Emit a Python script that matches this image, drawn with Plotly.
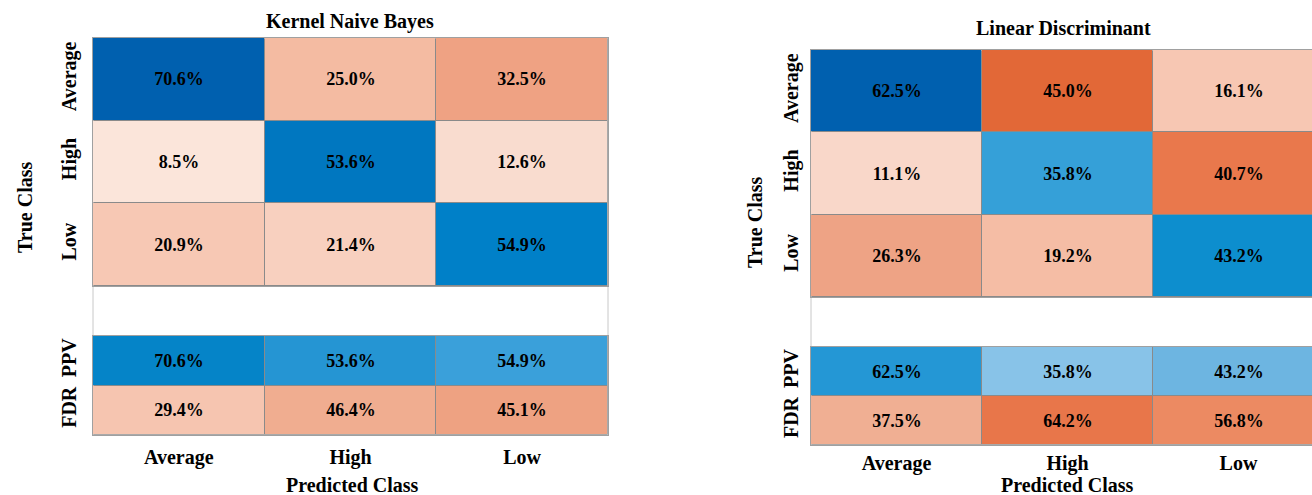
import plotly.graph_objects as go

# Class labels shared by both confusion charts
classes = ["Average", "High", "Low"]

# Kernel Naive Bayes: row = true class, column = predicted class (column-normalised %)
knb_matrix = [
    [70.6, 25.0, 32.5],
    [8.5, 53.6, 12.6],
    [20.9, 21.4, 54.9],
]
knb_ppv = [70.6, 53.6, 54.9]
knb_fdr = [29.4, 46.4, 45.1]

# Linear Discriminant
lda_matrix = [
    [62.5, 45.0, 16.1],
    [11.1, 35.8, 40.7],
    [26.3, 19.2, 43.2],
]
lda_ppv = [62.5, 35.8, 43.2]
lda_fdr = [37.5, 64.2, 56.8]

W, H = 1312, 495
FONT = "Liberation Serif"

# Colour scales (value range 0..100 %)
diag_scale = [
    [0.0, "#ffffff"], [0.25, "#6cbbe4"], [0.358, "#35a0d8"], [0.432, "#0d8ece"],
    [0.536, "#0077c0"], [0.549, "#0080c8"], [0.6, "#0068b4"], [0.625, "#0060af"],
    [1.0, "#0060af"],
]
off_scale = [
    [0.0, "#fdf1eb"], [0.085, "#fbe5da"], [0.111, "#f9d7c9"], [0.126, "#f9dccf"],
    [0.161, "#f7c7b3"], [0.192, "#f5bda5"], [0.209, "#f7c8b4"], [0.214, "#f8d0bf"],
    [0.25, "#f4bba2"], [0.263, "#eea385"], [0.325, "#efa283"], [0.407, "#e9784c"],
    [0.45, "#e26837"], [1.0, "#d45020"],
]
ppv_scale = [
    [0.0, "#ffffff"], [0.358, "#88c3e8"], [0.432, "#6db5e1"], [0.536, "#2595d3"],
    [0.549, "#3aa0da"], [0.625, "#2497d5"], [0.706, "#0584c8"], [1.0, "#0060b0"],
]
fdr_scale = [
    [0.0, "#ffffff"], [0.294, "#f6c5b0"], [0.375, "#f0af93"], [0.451, "#eea282"],
    [0.464, "#f0ad90"], [0.568, "#ec8a62"], [0.642, "#e8764a"], [1.0, "#d45020"],
]


def px_x(p):
    return p / W


def px_y(p):
    return 1 - p / H


fig = go.Figure()


def fmt(v):
    return f"{v:.1f}%"


def add_panel(matrix, ppv, fdr, ax_main, ax_sum):
    n = len(classes)
    diag = [[matrix[i][j] if i == j else None for j in range(n)] for i in range(n)]
    off = [[matrix[i][j] if i != j else None for j in range(n)] for i in range(n)]
    diag_txt = [[fmt(matrix[i][j]) if i == j else "" for j in range(n)] for i in range(n)]
    off_txt = [[fmt(matrix[i][j]) if i != j else "" for j in range(n)] for i in range(n)]
    common = dict(
        x=classes, showscale=False, zmin=0, zmax=100, xgap=1, ygap=1,
        texttemplate="%{text}", hoverinfo="skip",
        textfont=dict(family=FONT, size=18, color="black", weight="bold"),
    )
    xm, ym = ax_main
    xs, ys = ax_sum
    fig.add_trace(go.Heatmap(z=diag, y=classes, text=diag_txt, colorscale=diag_scale,
                             xaxis=xm, yaxis=ym, **common))
    fig.add_trace(go.Heatmap(z=off, y=classes, text=off_txt, colorscale=off_scale,
                             xaxis=xm, yaxis=ym, **common))
    fig.add_trace(go.Heatmap(z=[ppv, [None] * n], y=["PPV", "FDR"],
                             text=[[fmt(v) for v in ppv], [""] * n],
                             colorscale=ppv_scale, xaxis=xs, yaxis=ys, **common))
    fig.add_trace(go.Heatmap(z=[[None] * n, fdr], y=["PPV", "FDR"],
                             text=[[""] * n, [fmt(v) for v in fdr]],
                             colorscale=fdr_scale, xaxis=xs, yaxis=ys, **common))


add_panel(knb_matrix, knb_ppv, knb_fdr, ("x", "y"), ("x2", "y2"))
add_panel(lda_matrix, lda_ppv, lda_fdr, ("x3", "y3"), ("x4", "y4"))

tick_font = dict(family=FONT, size=20, color="black", weight="bold")
line = dict(showline=True, mirror=True, linecolor="#a0a0a0", linewidth=1,
            showgrid=False, zeroline=False, ticks="")

# Pixel geometry of the two panels
left_x = [px_x(93), px_x(608)]
left_main = [px_y(286), px_y(38)]
left_sum = [px_y(435), px_y(336)]
right_x = [px_x(811), 1.0]
right_main = [px_y(297), px_y(50)]
right_sum = [px_y(445), px_y(347)]
# the right-hand panel is clipped at the page edge
right_range = [-0.5, -0.5 + 3 * (1312 - 811) / (1324 - 811)]

fig.update_layout(
    width=W, height=H, margin=dict(l=0, r=0, t=0, b=0),
    paper_bgcolor="white", plot_bgcolor="#8a8a8a", showlegend=False,
    xaxis=dict(domain=left_x, showticklabels=False, range=[-0.5, 2.5], **line),
    yaxis=dict(domain=left_main, autorange="reversed", tickangle=-90,
               tickfont=tick_font, ticklabelstandoff=8, **line),
    xaxis2=dict(domain=left_x, anchor="y2", range=[-0.5, 2.5], tickfont=tick_font,
                ticklabelstandoff=4, **line),
    yaxis2=dict(domain=left_sum, anchor="x2", autorange="reversed", tickangle=-90,
                tickfont=tick_font, ticklabelstandoff=8, **line),
    xaxis3=dict(domain=right_x, anchor="y3", showticklabels=False, range=right_range, **line),
    yaxis3=dict(domain=right_main, anchor="x3", autorange="reversed", tickangle=-90,
                tickfont=tick_font, ticklabelstandoff=4, **line),
    xaxis4=dict(domain=right_x, anchor="y4", range=right_range, tickfont=tick_font,
                ticklabelstandoff=0, **line),
    yaxis4=dict(domain=right_sum, anchor="x4", autorange="reversed", tickangle=-90,
                tickfont=tick_font, ticklabelstandoff=4, **line),
)

# Light frame around each whole panel (matrix + gap + summary rows)
for x0, x1, y0, y1 in [(93, 608, 38, 435), (811, 1324, 50, 445)]:
    fig.add_shape(type="rect", xref="paper", yref="paper",
                  x0=px_x(x0), x1=px_x(x1), y0=px_y(y1), y1=px_y(y0),
                  line=dict(color="#c8c8c8", width=1), layer="below")

title_font = dict(family=FONT, size=20, color="black", weight="bold")
annotations = [
    ("Kernel Naive Bayes", 350, 22, 0),
    ("Linear Discriminant", 1063, 28, 0),
    ("Predicted Class", 352, 485, 0),
    ("Predicted Class", 1067, 485, 0),
    ("True Class", 25, 207, -90),
    ("True Class", 755, 222, -90),
]
for text, x, y, ang in annotations:
    fig.add_annotation(text=text, x=px_x(x), y=px_y(y), xref="paper", yref="paper",
                       showarrow=False, textangle=ang, font=title_font,
                       xanchor="center", yanchor="middle")

fig.write_html("out.html")
